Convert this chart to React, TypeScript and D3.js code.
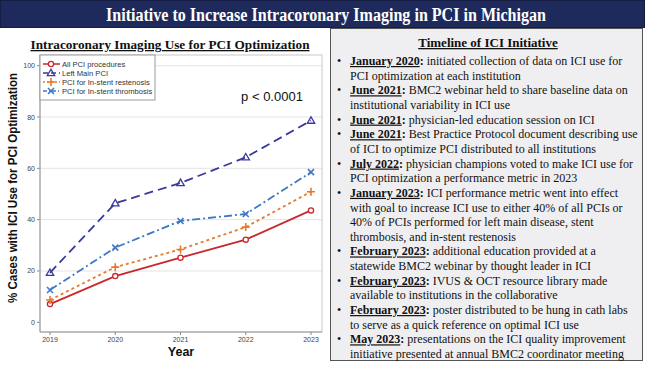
import React from "react";
import * as d3 from "d3";

const years = [2019, 2020, 2021, 2022, 2023];
const allPci = [7.1, 18.0, 25.2, 32.2, 43.6];
const leftMain = [19.3, 46.4, 54.3, 64.3, 78.6];
const restenosis = [8.7, 21.5, 28.4, 37.1, 50.9];
const thrombosis = [12.6, 29.1, 39.5, 42.2, 58.5];
const yTicks = [0, 20, 40, 60, 80, 100];
const seriesNames = ["All PCI procedures", "Left Main PCI", "PCI for In-stent restenosis", "PCI for In-stent thrombosis"];

const timeline: { date: string; lines: string[] }[] = [
  { date: "January 2020", lines: [": initiated collection of data on ICI use for", "PCI optimization at each institution"] },
  { date: "June 2021", lines: [": BMC2 webinar held to share baseline data on", "institutional variability in ICI use"] },
  { date: "June 2021", lines: [": physician-led education session on ICI"] },
  { date: "June 2021", lines: [": Best Practice Protocol document describing use", "of ICI to optimize PCI distributed to all institutions"] },
  { date: "July 2022", lines: [": physician champions voted to make ICI use for", "PCI optimization a performance metric in 2023"] },
  { date: "January 2023", lines: [": ICI performance metric went into effect", "with goal to increase ICI use to either 40% of all PCIs or", "40% of PCIs performed for left main disease, stent", "thrombosis, and in-stent restenosis"] },
  { date: "February 2023", lines: [": additional education provided at a", "statewide BMC2 webinar by thought leader in ICI"] },
  { date: "February 2023", lines: [": IVUS & OCT resource library made", "available to institutions in the collaborative"] },
  { date: "February 2023", lines: [": poster distributed to be hung in cath labs", "to serve as a quick reference on optimal ICI use"] },
  { date: "May 2023", lines: [": presentations on the ICI quality improvement", "initiative presented at annual BMC2 coordinator meeting"] },
];

const styles = [
  { color: "#c8282e", dash: "", legendDash: "", marker: "circle" },
  { color: "#3a3a9c", dash: "9,5", legendDash: "5,3", marker: "triangle" },
  { color: "#e8792c", dash: "3,3", legendDash: "2,2", marker: "plus" },
  { color: "#3c78c6", dash: "8,3,2,3", legendDash: "4,2,1,2", marker: "x" },
];

function Marker({ type, x, y, color }: { type: string; x: number; y: number; color: string }) {
  if (type === "circle") return <circle cx={x} cy={y} r={2.6} fill="white" stroke={color} strokeWidth={1.3} />;
  if (type === "triangle") {
    const p = d3.symbol(d3.symbolTriangle, 24)();
    return <path d={p || ""} transform={`translate(${x},${y + 0.5})`} fill="none" stroke={color} strokeWidth={1.3} />;
  }
  if (type === "plus")
    return <path d={`M${x - 4},${y}H${x + 4}M${x},${y - 4}V${y + 4}`} stroke={color} strokeWidth={1.6} />;
  return <path d={`M${x - 3},${y - 3}L${x + 3},${y + 3}M${x - 3},${y + 3}L${x + 3},${y - 3}`} stroke={color} strokeWidth={1.6} />;
}

export default function App() {
  const W = 650, H = 367;
  const x = d3.scalePoint<number>().domain(years).range([50, 311]);
  const y = d3.scaleLinear().domain([0, 100]).range([322.3, 65.7]);
  const data = [allPci, leftMain, restenosis, thrombosis];
  const line = d3.line<number>().x((_, i) => x(years[i]) as number).y((d) => y(d));
  const plotL = 40, plotR = 322, plotT = 55, plotB = 332;

  const lineH = 14.65;
  let li = 0;
  const serif = "'Liberation Serif', 'Times New Roman', serif";
  const sans = "'Liberation Sans', Arial, sans-serif";

  return (
    <svg width={W} height={H} style={{ position: "absolute", left: 0, top: 0 }} fontFamily={sans}>
      <rect x={0} y={0} width={W} height={H} fill="white" />
      {/* Header */}
      <rect x={0.5} y={0.5} width={644} height={27} fill="#1e2a5c" stroke="#151d44" />
      <text x={326} y={20.5} textAnchor="middle" fill="white" fontFamily={serif} fontWeight="bold" fontSize={18}
        textLength={440} lengthAdjust="spacingAndGlyphs">
        Initiative to Increase Intracoronary Imaging in PCI in Michigan
      </text>

      {/* Left panel title */}
      <text x={170} y={49} textAnchor="middle" fontFamily={serif} fontWeight="bold" fontSize={13} textDecoration="underline" fill="#111"
        textLength={279} lengthAdjust="spacingAndGlyphs">
        Intracoronary Imaging Use for PCI Optimization
      </text>

      {/* Plot */}
      {yTicks.map((t) => (
        <g key={t}>
          {t > 0 && <line x1={plotL} x2={plotR} y1={y(t)} y2={y(t)} stroke="#e4e4e4" strokeWidth={1} />}
          <line x1={plotL - 3} x2={plotL} y1={y(t)} y2={y(t)} stroke="#888" />
          <text x={plotL - 5} y={y(t) + 2.5} textAnchor="end" fontSize={7} fill="#444">{t}</text>
        </g>
      ))}
      <rect x={plotL} y={plotT} width={plotR - plotL} height={plotB - plotT} fill="none" stroke="#c8c8c8" />
      <line x1={plotL} x2={plotL} y1={plotT} y2={plotB} stroke="#999" />
      <line x1={plotL} x2={plotR} y1={plotB} y2={plotB} stroke="#999" />
      {years.map((yr) => (
        <g key={yr}>
          <line x1={x(yr)} x2={x(yr)} y1={plotB} y2={plotB + 3} stroke="#888" />
          <text x={x(yr)} y={plotB + 10} textAnchor="middle" fontSize={7} fill="#444">{yr}</text>
        </g>
      ))}
      {data.map((s, i) => (
        <g key={i}>
          <path d={line(s) || ""} fill="none" stroke={styles[i].color} strokeWidth={1.8} strokeDasharray={styles[i].dash} />
          {s.map((v, j) => (
            <Marker key={j} type={styles[i].marker} x={x(years[j]) as number} y={y(v)} color={styles[i].color} />
          ))}
        </g>
      ))}

      {/* Legend */}
      <rect x={plotL} y={plotT} width={115} height={45} fill="white" stroke="#999" />
      {seriesNames.map((n, i) => {
        const ly = 64 + i * 9;
        return (
          <g key={n}>
            <line x1={43} x2={60} y1={ly} y2={ly} stroke={styles[i].color} strokeWidth={1.5} strokeDasharray={styles[i].legendDash} />
            <Marker type={styles[i].marker} x={51} y={ly} color={styles[i].color} />
            <text x={62} y={ly + 2.6} fontSize={7.6} fill="#333">{n}</text>
          </g>
        );
      })}

      <text x={272} y={101} textAnchor="middle" fontSize={13} fill="#111">p &lt; 0.0001</text>

      <text transform="translate(17,188) rotate(-90)" textAnchor="middle" fontWeight="bold" fontSize={12.5} fill="#111"
        textLength={230} lengthAdjust="spacingAndGlyphs">
        % Cases with ICI Use for PCI Optimization
      </text>
      <text x={181} y={356} textAnchor="middle" fontWeight="bold" fontSize={12.5} fill="#111">Year</text>

      {/* Right panel */}
      <rect x={330.5} y={28.5} width={312} height={332} fill="#efeff1" stroke="#555" />
      <text x={488} y={47} textAnchor="middle" fontFamily={serif} fontWeight="bold" fontSize={13} textDecoration="underline" fill="#111">
        Timeline of ICI Initiative
      </text>
      {timeline.map((item, k) => {
        const start = li;
        li += item.lines.length;
        return (
          <g key={k} fontFamily={serif} fontSize={12} fill="#111">
            <text x={337} y={61 + start * lineH + 4}>•</text>
            {item.lines.map((ln, j) => (
              <text key={j} x={350} y={61 + (start + j) * lineH + 4}>
                {j === 0 && (
                  <tspan fontWeight="bold" textDecoration="underline">{item.date}</tspan>
                )}
                {j === 0 ? (
                  <>
                    <tspan fontWeight="bold">:</tspan>
                    <tspan>{ln.slice(1)}</tspan>
                  </>
                ) : (
                  ln
                )}
              </text>
            ))}
          </g>
        );
      })}
    </svg>
  );
}
